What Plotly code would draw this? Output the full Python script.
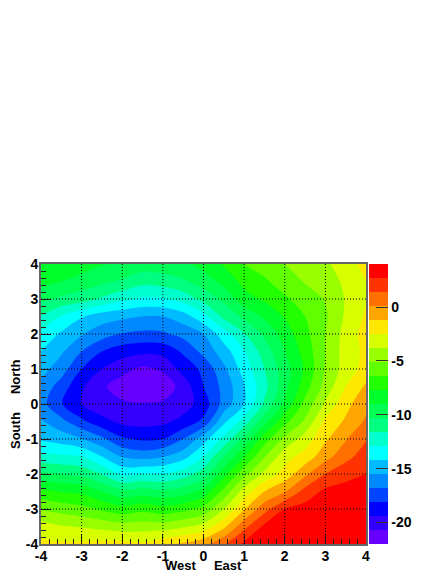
"""
west-east / south-north filled contour map
"""
import plotly.graph_objects as go

# grid, step 0.5
x_values = [-4, -3.5, -3, -2.5, -2, -1.5, -1, -0.5, 0, 0.5, 1, 1.5, 2, 2.5, 3, 3.5, 4]
y_values = [4, 3.5, 3, 2.5, 2, 1.5, 1, 0.5, 0, -0.5, -1, -1.5, -2, -2.5, -3, -3.5, -4]

row_p40 = [-7.9, -8.1, -8.4, -8.9, -9.2, -9.6, -9.5, -9.3, -8.5, -7.6, -6.3, -5.8, -5.1, -4.6, -4.1, -2.9, -2.2]
row_p35 = [-8.6, -9.0, -9.5, -10.0, -10.5, -11.2, -11.0, -10.5, -9.7, -8.6, -7.3, -6.6, -5.8, -5.0, -4.3, -3.6, -2.5]
row_p30 = [-10.0, -10.6, -11.0, -11.8, -12.6, -13.1, -13.0, -12.4, -11.2, -10.0, -8.2, -7.5, -6.6, -5.8, -5.0, -3.7, -2.6]
row_p25 = [-11.7, -13.0, -14.1, -14.9, -15.2, -15.5, -15.5, -14.8, -13.3, -11.3, -10.0, -8.8, -7.6, -6.4, -5.3, -3.6, -2.3]
row_p20 = [-13.2, -14.4, -15.4, -16.2, -16.9, -17.1, -17.0, -16.4, -15.5, -13.5, -11.7, -10.0, -8.4, -6.8, -5.1, -3.3, -2.0]
row_p15 = [-14.2, -15.3, -16.8, -18.1, -18.8, -19.1, -19.0, -17.9, -16.4, -14.8, -13.0, -11.0, -9.0, -7.2, -5.1, -3.2, -2.2]
row_p10 = [-15.0, -16.2, -18.1, -19.4, -20.3, -21.0, -20.5, -18.9, -17.8, -15.8, -13.6, -11.6, -9.6, -7.5, -5.0, -3.2, -2.0]
row_p05 = [-15.9, -17.4, -19.2, -20.5, -21.3, -21.9, -21.5, -20.2, -18.1, -16.4, -14.3, -12.0, -9.4, -7.0, -4.6, -2.5, -1.0]
row_000 = [-16.3, -18.0, -19.4, -20.2, -20.5, -20.6, -20.5, -20.0, -18.8, -16.3, -14.2, -11.4, -8.7, -6.0, -3.6, -1.6, -0.3]
row_m05 = [-15.4, -16.4, -17.8, -19.0, -19.7, -19.9, -19.7, -19.0, -17.8, -14.5, -12.3, -9.5, -6.8, -4.9, -2.2, -1.0, 0.3]
row_m10 = [-14.4, -14.8, -15.4, -16.5, -17.9, -18.3, -18.1, -16.8, -14.8, -12.5, -10.0, -7.0, -4.8, -3.2, -1.4, 0.0, 1.3]
row_m15 = [-12.5, -12.7, -12.9, -14.2, -15.6, -16.0, -15.6, -14.7, -12.9, -10.3, -7.8, -5.2, -3.0, -2.0, -0.4, 1.0, 2.0]
row_m20 = [-10.0, -10.3, -10.7, -11.7, -13.2, -12.9, -12.9, -12.2, -11.0, -8.2, -5.5, -3.5, -2.0, -0.2, 1.4, 2.2, 2.7]
row_m25 = [-7.3, -7.8, -8.0, -9.0, -10.0, -9.7, -10.0, -9.6, -8.6, -6.0, -3.2, -1.2, 0.0, 1.9, 3.0, 3.3, 3.3]
row_m30 = [-5.2, -5.6, -6.0, -6.6, -7.2, -6.8, -7.2, -6.8, -6.0, -3.8, -1.3, 0.9, 2.7, 3.2, 3.6, 3.7, 3.8]
row_m35 = [-3.2, -3.7, -3.9, -4.2, -4.5, -4.4, -4.4, -4.0, -3.3, -1.5, 1.0, 3.0, 3.6, 3.8, 3.9, 3.9, 3.9]
row_m40 = [-2.2, -2.3, -2.2, -2.1, -2.0, -2.3, -1.6, -1.0, -0.3, 1.2, 3.0, 3.8, 3.9, 3.9, 3.9, 3.9, 3.9]

z_values = [row_p40, row_p35, row_p30, row_p25, row_p20, row_p15, row_p10, row_p05, row_000,
            row_m05, row_m10, row_m15, row_m20, row_m25, row_m30, row_m35, row_m40]

# palette bands, lowest value first
band_colors = ["#6600ff", "#3300ff", "#0000ff", "#0044ff", "#0088ff", "#00bbff", "#00ffff",
               "#00ffcc", "#00ff80", "#00ff55", "#00ff2a", "#22ff00", "#5fff00", "#99ff00",
               "#d8ff00", "#ffe800", "#ffa500", "#ff7000", "#ff3300", "#ff0000"]
z_min = -22
z_max = 4
band_size = 1.3

axis_ticks = [-4, -3, -2, -1, 0, 1, 2, 3, 4]
axis_labels = ["-4", "-3", "-2", "-1", "0", "1", "2", "3", "4"]
bar_ticks = [-20, -15, -10, -5, 0]
bar_labels = ["-20", "-15", "-10", "-5", "0"]

FONT = dict(family="Liberation Sans", size=14, color="black", weight=700)
TITLE_FONT = dict(family="Liberation Sans", size=13, color="black", weight=700)

scale = []
for i, color in enumerate(band_colors):
    scale.append([i / len(band_colors), color])
    scale.append([(i + 1) / len(band_colors), color])

fig = go.Figure()
fig.add_trace(go.Contour(x=x_values, y=y_values, z=z_values, zmin=z_min, zmax=z_max,
                         colorscale=scale, line=dict(width=0, smoothing=1),
                         contours=dict(coloring="fill", start=z_min, end=z_max, size=band_size),
                         colorbar=dict(x=1.0092, xanchor="left", xpad=0, ypad=0, y=0.5, yanchor="middle",
                                       len=1, thickness=19, outlinewidth=0, ticks="inside", ticklen=12,
                                       tickcolor="#333333", tickvals=bar_ticks, ticktext=bar_labels,
                                       tickfont=FONT)))

# grid goes over the fill, like the original
for tick in axis_ticks[1:-1]:
    fig.add_vline(x=tick, line=dict(color="black", width=1, dash="1px 2px"))
    fig.add_hline(y=tick, line=dict(color="black", width=1, dash="1px 2px"))

axis_style = dict(range=[-4, 4], tickvals=axis_ticks, ticktext=axis_labels, ticks="inside", ticklen=10,
                  tickcolor="#222222", tickfont=FONT, showgrid=False, zeroline=False, showline=True,
                  linecolor="#666666", mirror=True, linewidth=2, ticklabelstandoff=-2,
                  minor=dict(tickmode="linear", tick0=-4, dtick=0.2, ticks="inside", ticklen=5,
                             tickcolor="#222222"))
fig.update_xaxes(**axis_style)
fig.update_yaxes(**axis_style)

# axis titles sit closer to the labels than plotly's title standoff allows
fig.add_annotation(text="West\u00a0\u00a0\u00a0\u00a0\u00a0East", xref="paper", yref="paper", x=0.5, y=0,
                   xanchor="center", yanchor="top", yshift=-12, showarrow=False, font=TITLE_FONT)
fig.add_annotation(text="South\u00a0\u00a0\u00a0\u00a0\u00a0North", xref="paper", yref="paper", x=0, y=0.5,
                   xanchor="center", yanchor="middle", xshift=-26, textangle=-90, showarrow=False, font=TITLE_FONT)

fig.update_layout(width=445, height=576, autosize=False, showlegend=False,
                  margin=dict(l=41, r=79, t=264, b=32, autoexpand=False),
                  paper_bgcolor="white", plot_bgcolor="white")

fig.write_html("out.html", post_script="document.body.style.margin='0'", config=dict(displayModeBar=False))
